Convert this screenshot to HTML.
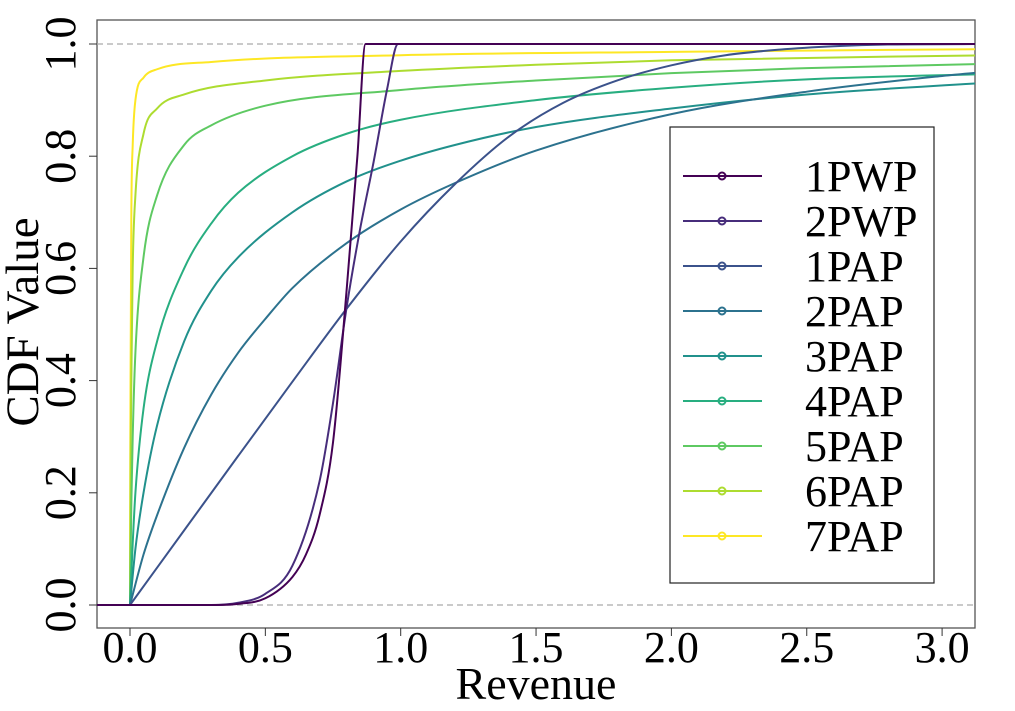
<!DOCTYPE html>
<html><head><meta charset="utf-8"><style>
body{margin:0;background:#fff}
svg,text{font-family:"Liberation Serif","Times New Roman","DejaVu Serif",serif}
</style></head><body>
<svg id="chart" width="1015" height="706" viewBox="0 0 1015 706">
<defs><clipPath id="pc"><rect x="97" y="20" width="878" height="608"/></clipPath></defs>
<rect x="97" y="20" width="878" height="608" fill="#fff" stroke="#555" stroke-width="1.3"/>
<g id="grid"></g>
<g id="series" clip-path="url(#pc)"></g>
<g id="axes"></g>
<text x="536" y="699" font-family="Liberation Serif, DejaVu Serif, serif" font-size="46" text-anchor="middle">Revenue</text>
<text transform="translate(38,322) rotate(-90)" font-family="Liberation Serif, DejaVu Serif, serif" font-size="47" text-anchor="middle">CDF Value</text>
<rect x="670" y="127" width="264" height="456" fill="#fff" stroke="#222" stroke-width="1.2"/>
<g id="legend"></g>
</svg>
<script>
const seriesNames=["1PWP","2PWP","1PAP","2PAP","3PAP","4PAP","5PAP","6PAP","7PAP"];
const seriesColors=["#440154","#472d7b","#3b528b","#2c728e","#21918c","#28ae80","#5ec962","#addc30","#fde725"];
const xs1PWP=[0,0.3,0.4,0.5,0.6,0.65,0.7,0.75,0.8,0.84,0.87,3.2];
const ys1PWP=[0,0,0.002,0.012,0.05,0.09,0.16,0.29,0.56,0.8,1,1];
const xs2PWP=[0,0.3,0.4,0.5,0.6,0.7,0.75,0.8,0.85,0.9,0.95,0.99,3.2];
const ys2PWP=[0,0,0.004,0.02,0.07,0.22,0.36,0.53,0.67,0.79,0.92,1,1];
const xs1PAP=[0,0.2,0.4,0.6,0.8,1.0,1.2,1.4,1.6,1.8,2.0,2.2,2.4,2.6,2.8,3.2];
const ys1PAP=[0,0.133,0.266,0.398,0.528,0.648,0.75,0.835,0.895,0.935,0.962,0.98,0.99,0.996,0.999,1];
const xs2PAP=[0,0.05,0.1,0.2,0.3,0.4,0.5,0.6,0.8,1.0,1.2,1.5,2.0,2.5,3.0,3.2];
const ys2PAP=[0,0.09,0.16,0.28,0.375,0.45,0.51,0.565,0.645,0.705,0.752,0.81,0.875,0.915,0.943,0.952];
const xs3PAP=[0,0.02,0.05,0.1,0.2,0.3,0.4,0.6,0.8,1.0,1.2,1.5,2.0,2.5,3.2];
const ys3PAP=[0,0.1,0.2,0.32,0.47,0.56,0.62,0.7,0.755,0.792,0.82,0.852,0.885,0.91,0.932];
const xs4PAP=[0,0.01,0.02,0.05,0.1,0.2,0.3,0.4,0.6,0.8,1.0,1.5,2.0,2.5,3.2];
const ys4PAP=[0,0.11,0.2,0.35,0.47,0.6,0.68,0.735,0.8,0.84,0.865,0.9,0.922,0.937,0.947];
const xs5PAP=[0,0.005,0.01,0.02,0.05,0.1,0.2,0.3,0.5,1.0,1.5,2.0,2.5,3.2];
const ys5PAP=[0,0.18,0.3,0.45,0.62,0.73,0.82,0.855,0.89,0.918,0.935,0.948,0.957,0.965];
const xs6PAP=[0,0.003,0.005,0.01,0.02,0.05,0.1,0.2,0.5,1.0,1.5,2.0,3.2];
const ys6PAP=[0,0.3,0.4,0.6,0.73,0.84,0.885,0.91,0.935,0.952,0.963,0.971,0.98];
const xs7PAP=[0,0.001,0.002,0.005,0.01,0.02,0.05,0.1,0.3,1.0,2.0,3.2];
const ys7PAP=[0,0.25,0.4,0.7,0.82,0.9,0.94,0.955,0.968,0.98,0.986,0.991];
const xTicks=[0,0.5,1,1.5,2,2.5,3];
const xTickLabels=["0.0","0.5","1.0","1.5","2.0","2.5","3.0"];
const yTicks=[0,0.2,0.4,0.6,0.8,1];
const yTickLabels=["0.0","0.2","0.4","0.6","0.8","1.0"];
const allX=[xs1PWP,xs2PWP,xs1PAP,xs2PAP,xs3PAP,xs4PAP,xs5PAP,xs6PAP,xs7PAP];
const allY=[ys1PWP,ys2PWP,ys1PAP,ys2PAP,ys3PAP,ys4PAP,ys5PAP,ys6PAP,ys7PAP];

const NS="http://www.w3.org/2000/svg";
const FONT="Liberation Serif, Times New Roman, DejaVu Serif, serif";
function sx(v){return 130+v*270.7;}
function sy(v){return 605-v*561;}
function mk(tag,attrs,parent){const e=document.createElementNS(NS,tag);for(const k in attrs)e.setAttribute(k,attrs[k]);parent.appendChild(e);return e;}
function monoPath(xs,ys){
  const n=xs.length,d=[],m=[];
  for(let i=0;i<n-1;i++)d.push((ys[i+1]-ys[i])/(xs[i+1]-xs[i]));
  m[0]=d[0];m[n-1]=d[n-2];
  for(let i=1;i<n-1;i++){m[i]=(d[i-1]*d[i]<=0)?0:(d[i-1]+d[i])/2;}
  for(let i=0;i<n-1;i++){
    if(d[i]===0){m[i]=0;m[i+1]=0;continue;}
    const a=m[i]/d[i],b=m[i+1]/d[i],s=a*a+b*b;
    if(s>9){const t=3/Math.sqrt(s);m[i]=t*a*d[i];m[i+1]=t*b*d[i];}
  }
  let p='M'+sx(-0.2).toFixed(2)+','+sy(0).toFixed(2)+' L'+sx(xs[0]).toFixed(2)+','+sy(ys[0]).toFixed(2);
  for(let i=0;i<n-1;i++){
    const h=xs[i+1]-xs[i];
    const c1x=xs[i]+h/3,c1y=ys[i]+m[i]*h/3,c2x=xs[i+1]-h/3,c2y=ys[i+1]-m[i+1]*h/3;
    p+=' C'+sx(c1x).toFixed(2)+','+sy(c1y).toFixed(2)+' '+sx(c2x).toFixed(2)+','+sy(c2y).toFixed(2)+' '+sx(xs[i+1]).toFixed(2)+','+sy(ys[i+1]).toFixed(2);
  }
  return p;
}
const grid=document.getElementById('grid'),ser=document.getElementById('series'),axes=document.getElementById('axes'),leg=document.getElementById('legend');
[0,1].forEach(v=>{
  const l=mk('line',{x1:97,x2:975,y1:sy(v),y2:sy(v),stroke:'#aaa','stroke-width':1.3,'stroke-dasharray':'6,4'},grid);
  
  
});
for(let i=seriesNames.length-1;i>=0;i--){
  const p=mk('path',{d:monoPath(allX[i],allY[i]),fill:'none',stroke:seriesColors[i],'stroke-width':2,'stroke-linejoin':'round'},ser);
  
  
}
xTicks.forEach((v,i)=>{
  const t=mk('line',{x1:sx(v),x2:sx(v),y1:628,y2:636,stroke:'#333','stroke-width':1},axes);
  
  
  const tx=mk('text',{x:sx(v),y:662,'font-size':44,'text-anchor':'middle','font-family':FONT},axes);
  tx.textContent=xTickLabels[i];
  
  
});
yTicks.forEach((v,i)=>{
  const t=mk('line',{x1:89,x2:97,y1:sy(v),y2:sy(v),stroke:'#333','stroke-width':1},axes);
  
  
  const tx=mk('text',{transform:'translate(75,'+sy(v)+') rotate(-90)','font-size':44,'text-anchor':'middle','font-family':FONT},axes);
  tx.textContent=yTickLabels[i];
  
  
});
seriesNames.forEach((n,i)=>{
  const y=176+i*45;
  const g=mk('g',{},leg);
  
  
  mk('line',{x1:683,x2:762,y1:y,y2:y,stroke:seriesColors[i],'stroke-width':2},g);
  mk('circle',{cx:722,cy:y,r:3.5,fill:'none',stroke:seriesColors[i],'stroke-width':2},g);
  const t=mk('text',{x:805,y:y+15,'font-size':44,'font-family':FONT},g);
  t.textContent=n;
});
</script>
</body></html>
